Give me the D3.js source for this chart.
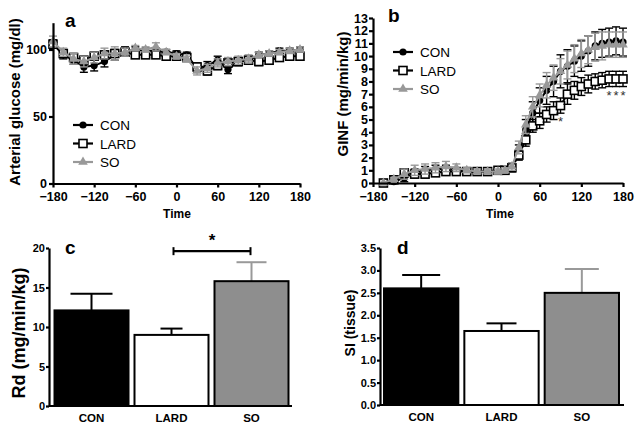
<!DOCTYPE html>
<html><head><meta charset="utf-8">
<script src="https://cdn.jsdelivr.net/npm/d3@7"></script>
<style>body{margin:0;background:#fff}svg text{font-family:"Liberation Sans",Arial,sans-serif}</style>
</head><body>
<svg id="chart" width="639" height="431"></svg>
<script>
// ---------- DATA ----------
const groups = ["CON", "LARD", "SO"];
const timeTicks = [-180, -120, -60, 0, 60, 120, 180];

// Panel a: arterial glucose (mg/dl)
const timeA = [-180,-165,-150,-135,-120,-105,-90,-75,-60,-45,-30,-15,0,15,30,45,60,75,90,105,120,135,150,165,180];
const glucCON  = [104,96,92,87,88,91,96,99,100,99,99,98,97,96,86,88,92,85,91,92,96,97,99,99,100];
const glucLARD = [104,97,94,92,95,96,97,98,96,96,96,95,95,94,87,84,88,90,91,92,91,92,94,95,95];
const glucSO   = [106,98,93,91,94,97,97,98,101,100,102,98,95,93,84,86,90,91,92,93,96,97,98,99,100];
const glucSemCON  = [3,3,3,4,4,4,4,3,2,2,2,2,2,2,3,3,3,3,3,3,2,2,2,2,2];
const glucSemLARD = [3,2,3,3,3,2,2,2,2,2,2,2,2,2,3,3,3,3,3,3,3,3,2,2,2];
const glucSemSO   = [4,3,4,4,4,4,5,3,2,2,3,2,2,2,3,3,3,3,3,3,2,2,2,2,2];

// Panel b: GINF (mg/min/kg)
const timeB = [-165,-150,-135,-120,-105,-90,-75,-60,-45,-30,-15,0,10,20,30,40,50,60,70,80,90,100,110,120,130,140,150,160,170,180];
const ginfCON  = [0,0.1,0.4,0.8,1.0,1.1,1.1,1.0,0.9,0.9,0.9,1.0,1.0,1.2,2.5,4.2,5.5,6.5,7.3,8.0,8.8,9.2,9.6,10.0,10.4,10.8,11.0,11.1,11.2,11.1];
const ginfLARD = [0,0.25,0.8,0.7,0.7,0.8,0.9,0.9,0.9,0.9,0.9,1.0,1.0,1.2,2.2,3.4,4.5,4.9,5.4,5.7,6.1,7.0,7.3,7.6,7.8,8.0,8.1,8.2,8.2,8.2];
const ginfSO   = [0,0.3,0.7,1.0,1.1,1.2,1.3,1.2,1.0,0.9,0.9,0.9,1.0,1.3,2.8,4.6,6.0,6.9,7.7,8.3,8.8,9.3,9.8,10.2,10.5,10.7,10.8,10.9,10.9,10.9];
const ginfSemCON  = [0,0.1,0.3,0.3,0.3,0.3,0.3,0.2,0.2,0.2,0.2,0.2,0.2,0.3,0.5,0.8,0.9,1.0,1.1,1.2,1.3,1.3,1.2,1.2,1.2,1.1,1.1,1.1,1.1,1.1];
const ginfSemLARD = [0,0.1,0.3,0.3,0.3,0.2,0.2,0.2,0.2,0.2,0.2,0.2,0.2,0.3,0.4,0.5,0.5,0.6,0.6,0.7,0.6,0.8,0.7,0.7,0.7,0.6,0.6,0.6,0.6,0.6];
const ginfSemSO   = [0,0.1,0.4,0.4,0.4,0.4,0.4,0.3,0.2,0.2,0.2,0.2,0.2,0.3,0.5,0.7,0.8,0.9,1.0,1.0,1.0,1.1,1.1,1.1,1.1,1.1,1.1,1.0,1.0,1.0];
const ginfStarTimes = [90, 160, 170, 180];

// Panel c: Rd (mg/min/kg)
const rdMean = [12.1, 9.0, 15.8];
const rdSem  = [2.1, 0.8, 2.4];
const rdTicks = [0, 5, 10, 15, 20];

// Panel d: SI (tissue)
const siMean = [2.6, 1.65, 2.5];
const siSem  = [0.3, 0.17, 0.53];
const siTicks = [0, 0.5, 1.0, 1.5, 2.0, 2.5, 3.0, 3.5];

// ---------- STYLE ----------
const FONT = '"Liberation Sans", Arial, sans-serif';
const lineColor = {CON: "#000", LARD: "#000", SO: "#999"};
const barFill = {CON: "#000", LARD: "#fff", SO: "#8e8e8e"};
const errColor = {CON: "#000", LARD: "#000", SO: "#999"};

const svg = d3.select("#chart");

function styleAxis(g, fs) {
  g.selectAll("path, line").attr("stroke", "#000").attr("stroke-width", 2.2);
  g.selectAll("text").attr("font-family", FONT).attr("font-weight", "bold")
    .attr("font-size", fs).attr("fill", "#000");
}

function marker(g, name, x, y) {
  if (name === "CON") {
    g.append("circle").attr("cx", x).attr("cy", y).attr("r", 3.6).attr("fill", "#000");
  } else if (name === "LARD") {
    g.append("rect").attr("x", x - 4).attr("y", y - 4).attr("width", 8).attr("height", 8)
      .attr("fill", "#fff").attr("stroke", "#000").attr("stroke-width", 1.6);
  } else {
    g.append("path").attr("d", d3.symbol(d3.symbolTriangle, 40)()).attr("transform", `translate(${x},${y})`)
      .attr("fill", "#999");
  }
}

function timePanel(opts) {
  const {x, y, times, series, sems, yTicks, letter, letterPos, ylabel, ylabelPos, legendPos, timeX, tickPad} = opts;
  const g = svg.append("g");
  groups.forEach((name, i) => {
    const vals = series[i], sem = sems[i];
    const sg = g.append("g");
    sg.append("path").datum(times.map((t, k) => [t, vals[k]]))
      .attr("fill", "none").attr("stroke", lineColor[name]).attr("stroke-width", 2)
      .attr("d", d3.line().x(d => x(d[0])).y(d => y(d[1])));
    times.forEach((t, k) => {
      const cx = x(t);
      const y1 = y(vals[k] + sem[k]), y0 = y(Math.max(0, vals[k] - sem[k]));
      if (sem[k] > 0) {
        sg.append("line").attr("x1", cx).attr("x2", cx).attr("y1", y1).attr("y2", y0)
          .attr("stroke", lineColor[name]).attr("stroke-width", 1.4);
        [y1, y0].forEach(yy => sg.append("line").attr("x1", cx - 4).attr("x2", cx + 4)
          .attr("y1", yy).attr("y2", yy).attr("stroke", lineColor[name]).attr("stroke-width", 1.4));
      }
      marker(sg, name, cx, y(vals[k]));
    });
  });
  const ax = g.append("g").attr("transform", `translate(0,${y.range()[0]})`)
    .call(d3.axisBottom(x).tickValues(timeTicks).tickSize(4).tickSizeOuter(0).tickFormat(d3.format("d")));
  styleAxis(ax, 12.5);
  ax.selectAll("text").attr("dy", "0.85em");
  const ay = g.append("g").attr("transform", `translate(${x.range()[0]},0)`)
    .call(d3.axisLeft(y).tickValues(yTicks).tickSize(4).tickPadding(tickPad).tickSizeOuter(0).tickFormat(d3.format("d")));
  styleAxis(ay, 12.5);
  g.append("text").attr("x", letterPos[0]).attr("y", letterPos[1]).text(letter)
    .attr("font-size", 19).attr("font-weight", "bold");
  g.append("text").attr("transform", `translate(${ylabelPos[0]},${ylabelPos[1]}) rotate(-90)`)
    .attr("text-anchor", "middle").attr("font-size", 15).attr("font-weight", "bold").text(ylabel);
  g.append("text").attr("x", timeX).attr("y", 218).attr("text-anchor", "middle")
    .attr("font-size", 12).attr("font-weight", "bold").text("Time");
  groups.forEach((name, i) => {
    const ly = legendPos[1] + i * 18.5;
    const lx = legendPos[0];
    g.append("line").attr("x1", lx).attr("x2", lx + 20).attr("y1", ly).attr("y2", ly)
      .attr("stroke", lineColor[name]).attr("stroke-width", 2.2);
    marker(g, name, lx + 10, ly);
    g.append("text").attr("x", lx + 27).attr("y", ly + 5).attr("font-size", 13.5).text(name);
  });
  return g;
}

// Panel a
const xa = d3.scaleLinear().domain([-180, 180]).range([53, 300]);
const ya = d3.scaleLinear().domain([0, 120]).range([183.5, 22.7]);
timePanel({x: xa, y: ya, times: timeA, series: [glucCON, glucLARD, glucSO],
  sems: [glucSemCON, glucSemLARD, glucSemSO], yTicks: [0, 50, 100], letter: "a", letterPos: [65, 27],
  ylabel: "Arterial glucose (mg/dl)", ylabelPos: [20, 102], legendPos: [73, 125], timeX: 177, tickPad: 2});

// Panel b
const xb = d3.scaleLinear().domain([-180, 180]).range([373, 623]);
const yb = d3.scaleLinear().domain([0, 13]).range([183, 18]);
const gb = timePanel({x: xb, y: yb, times: timeB, series: [ginfCON, ginfLARD, ginfSO],
  sems: [ginfSemCON, ginfSemLARD, ginfSemSO], yTicks: d3.range(0, 14), letter: "b", letterPos: [388, 22],
  ylabel: "GINF (mg/min/kg)", ylabelPos: [348, 94], legendPos: [393, 52], timeX: 500, tickPad: 1});
ginfStarTimes.forEach(t => {
  const i = timeB.indexOf(t);
  gb.append("text").attr("x", xb(t)).attr("y", yb(ginfLARD[i] - ginfSemLARD[i]) + 13)
    .attr("text-anchor", "middle").attr("font-size", 13).attr("fill", "#333").text("*");
});

// Bar panels
function barPanel(opts) {
  const {x, y, means, sems, ticks, fmt, letter, letterPos, ylabel, ylabelPos, ylabelSize, capW} = opts;
  const g = svg.append("g");
  groups.forEach((name, i) => {
    const bx = x(name), bw = x.bandwidth(), cx = bx + bw / 2;
    const top = y(means[i] + sems[i]);
    g.append("line").attr("x1", cx).attr("x2", cx).attr("y1", y(means[i])).attr("y2", top)
      .attr("stroke", errColor[name]).attr("stroke-width", 2);
    g.append("line").attr("x1", cx - capW[i] / 2).attr("x2", cx + capW[i] / 2).attr("y1", top).attr("y2", top)
      .attr("stroke", errColor[name]).attr("stroke-width", 2);
    g.append("rect").attr("x", bx).attr("y", y(means[i])).attr("width", bw)
      .attr("height", y(0) - y(means[i])).attr("fill", barFill[name])
      .attr("stroke", "#000").attr("stroke-width", 2);
  });
  const ax = g.append("g").attr("transform", `translate(0,${y.range()[0]})`)
    .call(d3.axisBottom(x).tickSize(0).tickSizeOuter(0));
  styleAxis(ax, 11.5);
  ax.select("path").attr("d", `M${opts.axisX[0]},0H${opts.axisX[1]}`);
  ax.selectAll("text").attr("dy", "1.15em");
  const ay = g.append("g").attr("transform", `translate(${opts.axisX[0]},0)`)
    .call(d3.axisLeft(y).tickValues(ticks).tickSize(3).tickPadding(1).tickSizeOuter(0).tickFormat(fmt));
  styleAxis(ay, 11);
  g.append("text").attr("x", letterPos[0]).attr("y", letterPos[1]).text(letter)
    .attr("font-size", 19).attr("font-weight", "bold");
  g.append("text").attr("transform", `translate(${ylabelPos[0]},${ylabelPos[1]}) rotate(-90)`)
    .attr("text-anchor", "middle").attr("font-size", ylabelSize).attr("font-weight", "bold").text(ylabel);
  return g;
}

const xc = d3.scaleBand().domain(groups).range([51.5, 291.5]).paddingInner(0.075).paddingOuter(0.0375);
const yc = d3.scaleLinear().domain([0, 20]).range([406, 248]);
const gc = barPanel({x: xc, y: yc, means: rdMean, sems: rdSem, ticks: rdTicks, fmt: d3.format("d"),
  letter: "c", letterPos: [65, 254], ylabel: "Rd (mg/min/kg)", ylabelPos: [25, 333], ylabelSize: 18,
  capW: [42, 22, 30], axisX: [49, 292]});
{
  const x1 = xc("LARD") + xc.bandwidth() / 2 + 2, x2 = xc("SO") + xc.bandwidth() / 2 - 1;
  const yy = yc(19.6);
  gc.append("line").attr("x1", x1).attr("x2", x2).attr("y1", yy).attr("y2", yy).attr("stroke", "#000").attr("stroke-width", 2.2);
  [x1, x2].forEach(xx => gc.append("line").attr("x1", xx).attr("x2", xx).attr("y1", yy - 4).attr("y2", yy + 4)
    .attr("stroke", "#000").attr("stroke-width", 2));
  gc.append("text").attr("x", (x1 + x2) / 2).attr("y", yy - 5).attr("text-anchor", "middle")
    .attr("font-size", 17).attr("font-weight", "bold").text("*");
}

const xd = d3.scaleBand().domain(groups).range([381, 622]).paddingInner(0.075).paddingOuter(0.0375);
const yd = d3.scaleLinear().domain([0, 3.5]).range([405, 248]);
barPanel({x: xd, y: yd, means: siMean, sems: siSem, ticks: siTicks, fmt: d3.format(".1f"),
  letter: "d", letterPos: [397, 254], ylabel: "SI (tissue)", ylabelPos: [355, 323], ylabelSize: 14,
  capW: [38, 30, 34], axisX: [380, 624]});
</script>
</body></html>
